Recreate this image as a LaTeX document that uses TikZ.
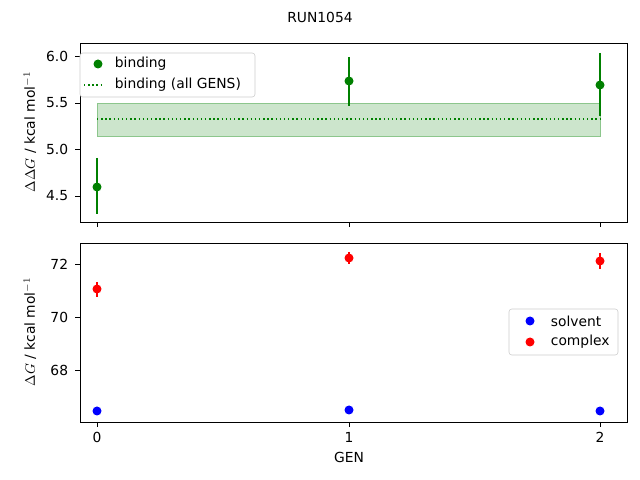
\documentclass[tikz,border=0pt]{standalone}
\usepackage{fontspec}
\setmainfont{DejaVu Sans}
\begin{document}
\begin{tikzpicture}[x=0.01in,y=-0.01in,font=\fontsize{10}{12}\selectfont,
  ax/.style={line width=0.6pt},
  tk/.style={line width=0.6pt},
  err/.style={line width=1.1pt},
  dot/.style={circle,inner sep=0pt,minimum size=6.5pt}]
\useasboundingbox (0,0) rectangle (640,480);
\definecolor{mgreen}{RGB}{0,128,0}
% title
\node (title) at (320,17) {RUN1054};
% top panel
\fill[mgreen!20] (97,103) rectangle (600,136);
\draw[mgreen!45,line width=0.5pt] (97,103) rectangle (600,136);
\draw[mgreen,dotted,line width=1pt] (97,119) -- (600,119);
\foreach \x/\y/\a/\b in {97/187/158/214, 349/81/57/106, 600/85/53/116}{
  \draw[err,mgreen] (\x,\a) -- (\x,\b);
  \node[dot,fill=mgreen] at (\x,\y) {};
}
\draw[ax] (80,43) rectangle (627,222);
\foreach \y/\l in {56/6.0,103/5.5,149/5.0,196/4.5}{
  \draw[tk] (80,\y) -- (75,\y);
  \node[anchor=east] at (73,\y) {\l};
}
\foreach \x in {97,349,600} \draw[tk] (\x,222) -- (\x,227);
\node[rotate=90] (ylabtop) at (30,132) {$\Delta\Delta G$ / kcal mol$^{-1}$};
% top legend
\draw[black!20,fill=white,rounded corners=2pt] (80,53) rectangle (255,97);
\node[dot,fill=mgreen] (lgbind) at (98,64) {};
\node[anchor=west] at (110,64) {binding};
\draw[mgreen,dotted,line width=1pt] (84,85) -- (104,85);
\node[anchor=west] at (110,85) {binding (all GENS)};
% bottom panel
\foreach \x/\y/\a/\b in {97/289/282/297, 349/258/252/264, 600/261/253/269}{
  \draw[err,red] (\x,\a) -- (\x,\b);
  \node[dot,fill=red] at (\x,\y) {};
}
\foreach \x/\y in {97/411, 349/410, 600/411}
  \node[dot,fill=blue] at (\x,\y) {};
\draw[ax] (80,243) rectangle (627,422);
\foreach \y/\l in {264/72,317/70,370/68}{
  \draw[tk] (80,\y) -- (75,\y);
  \node[anchor=east] at (73,\y) {\l};
}
\foreach \x/\l in {97/0,349/1,600/2}{
  \draw[tk] (\x,422) -- (\x,427);
  \node at (\x,437) {\l};
}
\node (xlab) at (349,457) {GEN};
\node[rotate=90] (ylabbot) at (30,332) {$\Delta G$ / kcal mol$^{-1}$};
% bottom legend
\draw[black!20,fill=white,rounded corners=2pt] (509,309) rectangle (618,355);
\node[dot,fill=blue] (lgsolv) at (530,321) {};
\node[anchor=west] at (546,321) {solvent};
\node[dot,fill=red] (lgcomp) at (530,342) {};
\node[anchor=west] at (546,342) {complex};
\end{tikzpicture}
\end{document}
